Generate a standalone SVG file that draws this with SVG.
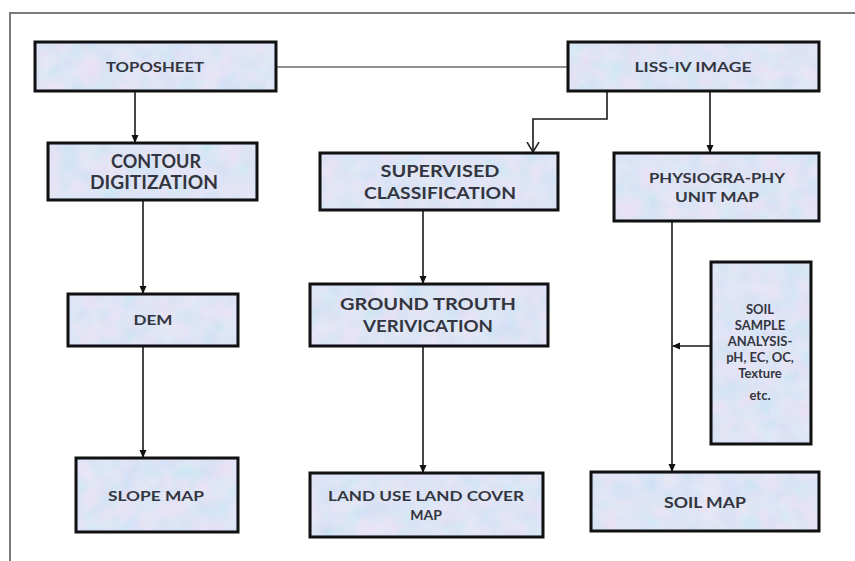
<svg xmlns="http://www.w3.org/2000/svg" width="855" height="561" viewBox="0 0 855 561">
<defs>
<marker id="ah" markerWidth="8" markerHeight="8" refX="7" refY="4" orient="auto" markerUnits="userSpaceOnUse"><path d="M0,0.5 L8,4 L0,7.5 Z" fill="#111"/></marker>
<marker id="av" markerWidth="12" markerHeight="14" refX="10" refY="7" orient="auto" markerUnits="userSpaceOnUse"><path d="M0,1 L10,7 L0,13" fill="none" stroke="#222" stroke-width="1.5"/></marker>
<filter id="tex" x="0" y="0" width="100%" height="100%">
<feTurbulence type="fractalNoise" baseFrequency="0.05" numOctaves="3" seed="4" result="n"/>
<feColorMatrix in="n" type="matrix" values="0.6 0 0 0 0.55  0 0.2 0 0 0.76  0 0 0.1 0 0.90  0 0 0 0 1" result="c"/>
<feComposite in="c" in2="SourceGraphic" operator="in"/>
</filter>
</defs>
<style>
.box{fill:#ccd8f1;stroke:#111;stroke-width:3}
.tx{opacity:0.55}
.t{font-family:Lato,"Open Sans",sans-serif;font-weight:bold;fill:#34363f;text-anchor:middle}
.c{fill:none;stroke:#1a1a1a;stroke-width:1.6}
</style>
<rect width="855" height="561" fill="#fff"/>
<path d="M10,561 V13 H855" fill="none" stroke="#7a7a7a" stroke-width="2"/>
<g id="connectors">
<line x1="276" y1="67" x2="568" y2="67" stroke="#6a6a6a" stroke-width="1.6"/>
<line class="c" x1="135" y1="91" x2="135" y2="142" marker-end="url(#ah)"/>
<polyline class="c" points="607,91 607,119 533,119 533,152" marker-end="url(#av)"/>
<line class="c" x1="710" y1="91" x2="710" y2="152" marker-end="url(#ah)"/>
<line class="c" x1="143" y1="200" x2="143" y2="293" marker-end="url(#ah)"/>
<line class="c" x1="143" y1="346" x2="143" y2="457" marker-end="url(#ah)"/>
<line class="c" x1="423" y1="210" x2="423" y2="283" marker-end="url(#ah)"/>
<line class="c" x1="423" y1="346" x2="423" y2="472" marker-end="url(#ah)"/>
<line class="c" x1="672" y1="221" x2="672" y2="471" marker-end="url(#ah)"/>
<line class="c" x1="711" y1="346" x2="673" y2="346" marker-end="url(#ah)"/>
</g>
<g id="toposheet"><rect class="box" x="35" y="42" width="241" height="49"/><rect class="tx" x="37" y="44" width="237" height="45" filter="url(#tex)"/><text class="t" x="155" y="72" font-size="14" textLength="98" lengthAdjust="spacingAndGlyphs">TOPOSHEET</text></g>
<g id="liss"><rect class="box" x="568" y="42" width="251" height="49"/><rect class="tx" x="570" y="44" width="247" height="45" filter="url(#tex)"/><text class="t" x="693" y="72" font-size="14" textLength="117" lengthAdjust="spacingAndGlyphs">LISS-IV IMAGE</text></g>
<g id="contour"><rect class="box" x="48" y="143" width="209" height="57"/><rect class="tx" x="50" y="145" width="205" height="53" filter="url(#tex)"/><text class="t" x="156" y="168" font-size="18" textLength="90" lengthAdjust="spacingAndGlyphs">CONTOUR</text><text class="t" x="154" y="189" font-size="18" textLength="128" lengthAdjust="spacingAndGlyphs">DIGITIZATION</text></g>
<g id="supervised"><rect class="box" x="320" y="153" width="238" height="57"/><rect class="tx" x="322" y="155" width="234" height="53" filter="url(#tex)"/><text class="t" x="440" y="177" font-size="17" textLength="119" lengthAdjust="spacingAndGlyphs">SUPERVISED</text><text class="t" x="440" y="199" font-size="17" textLength="152" lengthAdjust="spacingAndGlyphs">CLASSIFICATION</text></g>
<g id="physiography"><rect class="box" x="614" y="153" width="205" height="68"/><rect class="tx" x="616" y="155" width="201" height="64" filter="url(#tex)"/><text class="t" x="717" y="183" font-size="14" textLength="136" lengthAdjust="spacingAndGlyphs">PHYSIOGRA-PHY</text><text class="t" x="717" y="202" font-size="14" textLength="84" lengthAdjust="spacingAndGlyphs">UNIT MAP</text></g>
<g id="dem"><rect class="box" x="68" y="294" width="170" height="52"/><rect class="tx" x="70" y="296" width="166" height="48" filter="url(#tex)"/><text class="t" x="153" y="325" font-size="14" textLength="39" lengthAdjust="spacingAndGlyphs">DEM</text></g>
<g id="ground"><rect class="box" x="310" y="284" width="238" height="62"/><rect class="tx" x="312" y="286" width="234" height="58" filter="url(#tex)"/><text class="t" x="428" y="310" font-size="17" textLength="176" lengthAdjust="spacingAndGlyphs">GROUND TROUTH</text><text class="t" x="428" y="332" font-size="17" textLength="130" lengthAdjust="spacingAndGlyphs">VERIVICATION</text></g>
<g id="soilsample"><rect class="box" x="711" y="262" width="100" height="182"/><rect class="tx" x="713" y="264" width="96" height="178" filter="url(#tex)"/><text class="t" font-size="13"><tspan x="760" y="314">SOIL</tspan><tspan x="760" y="330">SAMPLE</tspan><tspan x="760" y="346">ANALYSIS-</tspan><tspan x="760" y="362">pH, EC, OC,</tspan><tspan x="760" y="378">Texture</tspan><tspan x="760" y="400">etc.</tspan></text></g>
<g id="slope"><rect class="box" x="76" y="458" width="162" height="74"/><rect class="tx" x="78" y="460" width="158" height="70" filter="url(#tex)"/><text class="t" x="156" y="501" font-size="14" textLength="96" lengthAdjust="spacingAndGlyphs">SLOPE MAP</text></g>
<g id="landuse"><rect class="box" x="310" y="473" width="233" height="64"/><rect class="tx" x="312" y="475" width="229" height="60" filter="url(#tex)"/><text class="t" x="426" y="501" font-size="14" textLength="196" lengthAdjust="spacingAndGlyphs">LAND USE LAND COVER</text><text class="t" x="426" y="520" font-size="14">MAP</text></g>
<g id="soilmap"><rect class="box" x="591" y="472" width="228" height="59"/><rect class="tx" x="593" y="474" width="224" height="55" filter="url(#tex)"/><text class="t" x="705" y="508" font-size="15" textLength="82" lengthAdjust="spacingAndGlyphs">SOIL MAP</text></g>
</svg>
